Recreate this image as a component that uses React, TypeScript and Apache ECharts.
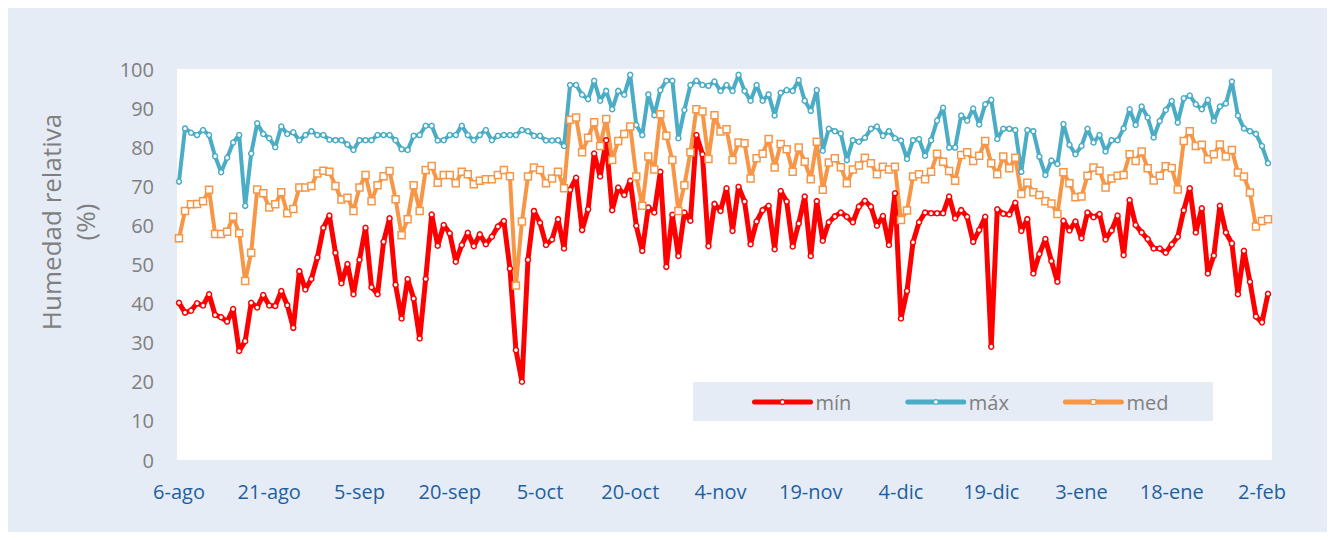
import React, { useEffect, useRef } from "react";
import * as echarts from "echarts";

// Daily relative humidity, 6-ago .. 3-feb
const START_DATE = Date.UTC(2017, 7, 6);
const MONTHS = ["ene", "feb", "mar", "abr", "may", "jun", "jul", "ago", "sep", "oct", "nov", "dic"];
const Y_TICKS = [0, 10, 20, 30, 40, 50, 60, 70, 80, 90, 100];
const SERIES_NAMES = ["mín", "máx", "med"];

const minValues = [
  40.2, 37.7, 38.2, 40.1, 39.5, 42.4, 37.1, 36.5, 35.4, 38.6, 27.9, 30.4, 40.2, 39.0, 42.2, 39.5, 39.4, 43.2, 39.6, 33.8, 48.3, 43.6, 46.3, 51.8, 59.4, 62.5, 53.0, 45.2, 50.1, 42.4,
  51.2, 59.4, 44.2, 42.4, 55.8, 61.8, 44.8, 36.2, 46.3, 41.3, 31.1, 46.3, 62.8, 54.8, 60.1, 58.0, 50.7, 55.0, 58.1, 54.7, 57.7, 55.2, 57.1, 59.7, 61.1, 49.0, 28.1, 20.0, 51.2, 63.7,
  60.7, 55.0, 56.4, 61.6, 54.1, 69.1, 72.2, 58.8, 64.1, 78.4, 72.5, 81.8, 63.9, 69.7, 67.8, 71.4, 59.9, 53.5, 64.6, 63.3, 73.7, 49.4, 62.7, 52.2, 63.3, 61.2, 83.1, 78.2, 54.7, 65.5,
  63.7, 69.5, 58.6, 69.9, 66.1, 55.2, 61.0, 63.9, 65.0, 53.9, 68.8, 66.1, 54.6, 60.5, 67.4, 52.2, 66.2, 56.1, 60.8, 62.3, 63.3, 62.2, 60.8, 64.8, 66.3, 64.8, 59.9, 62.4, 55.0, 68.2,
  36.2, 43.2, 55.7, 60.8, 63.3, 63.1, 63.1, 63.1, 67.4, 61.8, 63.9, 62.2, 55.8, 58.8, 62.2, 29.0, 64.1, 63.0, 62.8, 65.8, 58.6, 61.6, 47.7, 52.7, 56.5, 50.9, 45.6, 61.2, 58.7, 61.0,
  56.7, 63.3, 62.1, 62.9, 56.4, 58.7, 62.5, 52.4, 66.5, 60.1, 58.2, 56.5, 54.1, 54.1, 53.0, 55.1, 57.1, 63.9, 69.5, 58.2, 64.4, 47.7, 52.3, 65.0, 58.2, 55.4, 42.4, 53.5, 45.6, 36.7, 35.2, 42.5,
];

const maxValues = [
  71.2, 84.8, 83.7, 83.1, 84.4, 83.1, 77.7, 73.6, 77.3, 81.2, 83.1, 65.0, 78.4, 86.1, 83.4, 82.3, 80.0, 85.3, 83.4, 83.8, 81.8, 83.1, 84.1, 83.1, 83.1, 81.9, 81.8, 81.8, 80.7, 79.3,
  81.8, 81.8, 81.8, 83.1, 83.1, 83.1, 81.8, 79.5, 79.3, 82.9, 83.1, 85.5, 85.5, 81.7, 81.8, 83.1, 83.1, 85.5, 83.1, 81.8, 83.1, 84.4, 81.8, 82.9, 83.1, 83.1, 83.1, 84.4, 84.1, 82.9,
  82.9, 81.7, 81.7, 81.8, 80.3, 95.9, 95.9, 93.4, 92.3, 97.0, 91.9, 94.4, 89.7, 94.4, 93.4, 98.5, 85.7, 83.1, 93.5, 88.2, 94.6, 97.0, 97.0, 82.3, 89.5, 95.9, 97.0, 95.9, 95.7, 96.8,
  94.4, 95.9, 94.4, 98.5, 94.4, 91.9, 95.9, 91.9, 93.5, 88.1, 93.9, 94.6, 94.4, 97.2, 91.9, 89.3, 94.6, 79.1, 84.7, 84.1, 83.5, 76.7, 81.8, 81.4, 82.4, 84.7, 85.3, 82.9, 84.1, 82.3,
  81.7, 77.0, 81.8, 82.1, 77.8, 81.8, 86.8, 90.1, 79.9, 79.9, 88.1, 86.8, 89.9, 85.8, 91.0, 92.1, 82.1, 84.7, 84.7, 84.4, 73.7, 84.4, 84.1, 77.6, 72.9, 76.6, 75.7, 85.9, 80.6, 78.2,
  80.3, 84.7, 81.2, 83.1, 78.9, 81.8, 81.8, 84.8, 89.7, 85.7, 90.4, 87.6, 82.5, 86.7, 89.5, 91.8, 86.3, 92.5, 93.2, 91.0, 89.7, 92.1, 86.7, 90.4, 91.2, 96.8, 88.1, 84.8, 84.1, 83.4, 80.3, 75.9,
];

const medValues = [
  56.7, 63.7, 65.4, 65.5, 66.2, 69.1, 57.8, 57.8, 58.4, 62.2, 58.0, 45.8, 53.0, 69.2, 68.2, 64.6, 65.4, 68.5, 63.1, 64.2, 69.7, 69.7, 70.1, 73.3, 74.0, 73.7, 70.1, 66.6, 67.1, 63.7,
  69.7, 72.9, 66.2, 70.3, 72.6, 73.9, 66.7, 57.5, 61.6, 70.3, 63.7, 74.2, 75.2, 70.9, 72.9, 72.9, 70.8, 73.7, 73.1, 70.5, 71.4, 71.8, 71.8, 72.9, 74.2, 72.6, 44.6, 61.0, 72.5, 74.8,
  74.2, 70.8, 72.0, 73.7, 69.5, 87.0, 87.6, 78.7, 82.4, 86.4, 80.3, 87.2, 76.7, 81.6, 83.4, 85.3, 72.5, 65.0, 77.6, 74.3, 88.4, 82.9, 76.7, 63.7, 70.3, 78.7, 89.7, 89.1, 77.0, 88.2,
  84.0, 84.6, 76.7, 81.2, 81.0, 72.0, 77.2, 78.3, 82.1, 74.8, 80.8, 79.5, 73.7, 79.9, 76.3, 71.8, 81.4, 69.1, 76.1, 77.2, 74.9, 70.8, 74.3, 75.3, 77.3, 75.9, 73.1, 75.0, 74.3, 75.0,
  61.4, 63.8, 72.5, 73.1, 71.8, 73.7, 78.3, 76.3, 73.9, 71.4, 78.0, 78.7, 76.5, 77.8, 81.6, 75.9, 73.1, 77.6, 74.6, 77.3, 68.0, 70.9, 68.5, 67.8, 66.2, 65.6, 62.9, 73.6, 70.8, 67.2,
  67.4, 72.7, 74.8, 74.0, 69.7, 72.0, 72.7, 72.9, 78.2, 76.5, 78.9, 74.6, 71.5, 72.7, 75.1, 74.7, 69.2, 81.6, 84.1, 80.3, 80.6, 76.9, 78.2, 80.7, 77.6, 79.3, 73.5, 72.5, 68.4, 59.7, 61.1, 61.6,
];

const categories = maxValues.map((_, i) => {
  const d = new Date(START_DATE + i * 86400000);
  return `${d.getUTCDate()}-${MONTHS[d.getUTCMonth()]}`;
});

const FONT = "'Open Sans', 'Noto Sans', sans-serif";
const GRAY = "#7F7F7F";
const BG = "#E6ECF5";

export default function App() {
  const ref = useRef<HTMLDivElement>(null);
  useEffect(() => {
    if (!ref.current) return;
    const chart = echarts.init(ref.current, undefined, { renderer: "svg" });
    const mk = (name: string, data: number[], color: string, width: number, symbol: string, size: number) => ({
      name,
      type: "line",
      data,
      showAllSymbol: true,
      symbol,
      symbolSize: size,
      lineStyle: { color, width, join: "round", cap: "round" },
      itemStyle: { color: "#ffffff", borderColor: color, borderWidth: 1.5 },
      emphasis: { disabled: true },
    });
    chart.setOption({
      animation: false,
      backgroundColor: BG,
      textStyle: { fontFamily: FONT },
      graphic: [
        {
          type: "rect",
          z: -20,
          shape: { x: 169, y: 61, width: 1095, height: 391 },
          style: { fill: "#ffffff" },
        },
        {
          type: "rect",
          z: -10,
          shape: { x: 685, y: 374, width: 520, height: 39 },
          style: { fill: BG },
        },
        {
          type: "text",
          x: 60,
          y: 214,
          rotation: Math.PI / 2,
          style: {
            text: "Humedad relativa\n(%)",
            fontSize: 26,
            fontFamily: FONT,
            lineHeight: 34,
            fill: GRAY,
            align: "center",
            verticalAlign: "middle",
            textAlign: "center",
            textVerticalAlign: "middle",
          },
        },
      ],
      grid: { left: 171, right: 59, top: 61, bottom: 72, containLabel: false },
      legend: {
        data: SERIES_NAMES,
        left: 744,
        top: 382,
        padding: 0,
        itemWidth: 56,
        itemHeight: 6,
        itemGap: 54,
        lineStyle: { width: 5, cap: "round" },
        itemStyle: { borderWidth: 1.2 },
        textStyle: { color: GRAY, fontSize: 20, fontFamily: FONT, lineHeight: 24 },
      },
      xAxis: {
        type: "category",
        data: categories,
        boundaryGap: false,
        axisLine: { show: false },
        axisTick: { show: false },
        splitLine: { show: false },
        axisLabel: {
          interval: 14,
          color: "#1F5F9F",
          fontSize: 20,
          fontFamily: FONT,
          margin: 21,
        },
      },
      yAxis: {
        type: "value",
        min: Y_TICKS[0],
        max: Y_TICKS[Y_TICKS.length - 1],
        interval: Y_TICKS[1] - Y_TICKS[0],
        axisLine: { show: false },
        axisTick: { show: false },
        splitLine: { show: false },
        axisLabel: { color: GRAY, fontSize: 20, fontFamily: FONT, margin: 25 },
      },
      series: [
        mk(SERIES_NAMES[0], minValues, "#FF0000", 5, "circle", 5),
        mk(SERIES_NAMES[1], maxValues, "#4BACC6", 4, "circle", 5),
        mk(SERIES_NAMES[2], medValues, "#F79646", 4, "rect", 7),
      ],
    });
    return () => chart.dispose();
  }, []);
  return <div ref={ref} style={{ width: 1319, height: 524 }} />;
}
